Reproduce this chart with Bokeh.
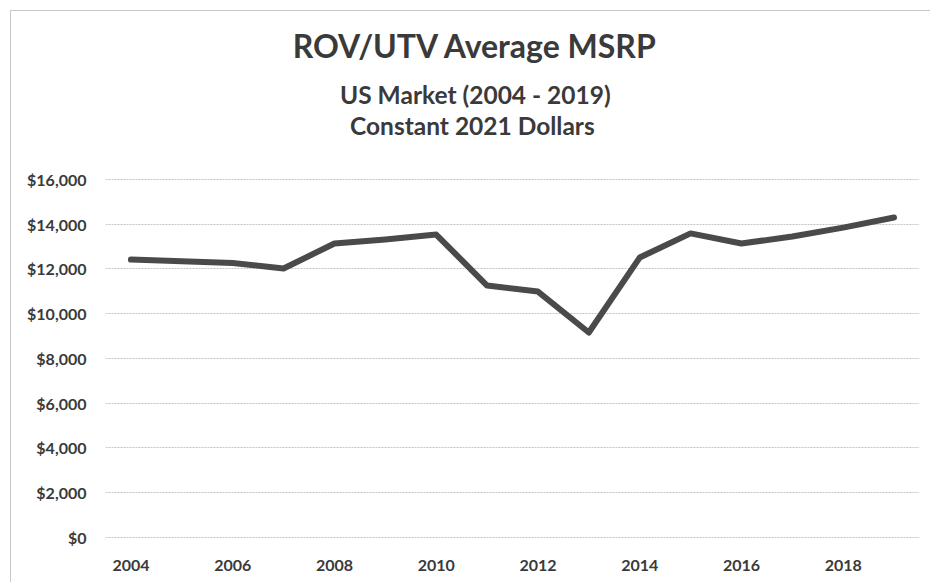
from bokeh.plotting import figure
from bokeh.models import Range1d, FixedTicker, NumeralTickFormatter
from bokeh.core.properties import value
from bokeh.embed import file_html
from bokeh.resources import INLINE

years = [2004, 2005, 2006, 2007, 2008, 2009, 2010, 2011, 2012, 2013,
         2014, 2015, 2016, 2017, 2018, 2019]
msrp = [12420, 12350, 12270, 12020, 13140, 13320, 13540, 11260, 10990, 9160,
        12510, 13590, 13140, 13450, 13850, 14300]
x_ticks = [2004, 2006, 2008, 2010, 2012, 2014, 2016, 2018]
y_ticks = [0, 2000, 4000, 6000, 8000, 10000, 12000, 14000, 16000]
title_lines = ["ROV/UTV Average MSRP", "US Market (2004 - 2019)", "Constant  2021 Dollars"]

FONT = "Lato"

p = figure(width=920, height=572, output_backend="svg", toolbar_location=None,
           x_range=Range1d(2003.5, 2019.5), y_range=Range1d(-45, 23507),
           min_border_left=94, min_border_right=12, min_border_top=0, min_border_bottom=45)
p.styles = {"margin-left": "10px", "margin-top": "10px",
            "border-left": "1px solid #c8c8c8", "border-top": "1px solid #c8c8c8"}
p.outline_line_color = None
p.background_fill_color = "white"
p.border_fill_color = "white"

p.line(years, msrp, line_color="#4a4a4a", line_width=6, line_join="round", line_cap="round")

p.xaxis.ticker = FixedTicker(ticks=x_ticks)
p.yaxis.ticker = FixedTicker(ticks=y_ticks)
p.yaxis.formatter = NumeralTickFormatter(format="$0,0")
for ax in (p.xaxis, p.yaxis):
    ax.axis_line_color = None
    ax.major_tick_line_color = None
    ax.minor_tick_line_color = None
    ax.major_label_text_font = FONT
    ax.major_label_text_font_size = "16px"
    ax.major_label_text_font_style = "bold"
    ax.major_label_text_color = "#3a3a3a"
p.xaxis.major_label_standoff = 15
p.yaxis.major_label_standoff = 13

p.xgrid.grid_line_color = None
p.ygrid.grid_line_color = "#c4c4c4"
p.ygrid.grid_line_width = 1
p.ygrid.grid_line_dash = "2 1"

# title lines drawn inside the (extended) frame, above the 16,000 gridline
title_x = [2010.77, 2010.77, 2010.77]
title_y = [21990, 19800, 18410]
title_sizes = ["32px", "24.5px", "24.5px"]
for txt, tx, ty, fs in zip(title_lines, title_x, title_y, title_sizes):
    p.text(x=[tx], y=[ty], text=[txt], text_align="center",
           text_baseline="alphabetic", text_font=value(FONT),
           text_font_size=fs, text_font_style="bold", text_color="#3a3a3a")

open("out.html", "w").write(file_html(p, INLINE))
